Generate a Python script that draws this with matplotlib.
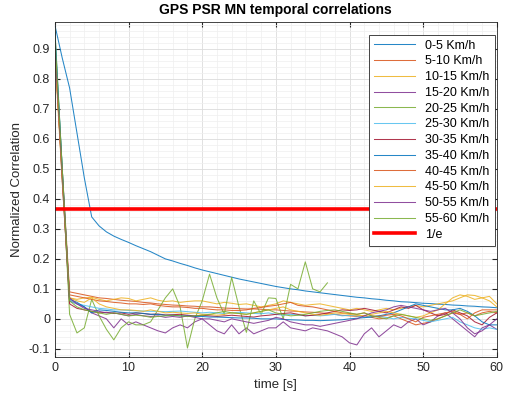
import numpy as np
import matplotlib
matplotlib.use("Agg")
import matplotlib.pyplot as plt
from matplotlib.ticker import MultipleLocator, FuncFormatter

plt.rcParams['font.family'] = ['Liberation Sans', 'DejaVu Sans']
plt.rcParams['axes.unicode_minus'] = False

# speed classes
labels = ['0-5 Km/h', '5-10 Km/h', '10-15 Km/h', '15-20 Km/h', '20-25 Km/h',
          '25-30 Km/h', '30-35 Km/h', '35-40 Km/h', '40-45 Km/h', '45-50 Km/h',
          '50-55 Km/h', '55-60 Km/h']

# MATLAB default colour order, cycled
colors = ['#0072BD', '#D95319', '#EDB120', '#7E2F8E', '#77AC30', '#4DBEEE',
          '#A2142F', '#0072BD', '#D95319', '#EDB120', '#7E2F8E', '#77AC30']

# lag [s]
t = np.arange(0, 61)

c_0_5 = [0.98, 0.87, 0.77, 0.62, 0.47, 0.34, 0.31, 0.29, 0.276, 0.265,
         0.255, 0.244, 0.234, 0.224, 0.212, 0.2, 0.193, 0.185, 0.178, 0.17,
         0.163, 0.157, 0.151, 0.145, 0.139, 0.133, 0.128, 0.123, 0.118, 0.113,
         0.108, 0.104, 0.1, 0.097, 0.093, 0.09, 0.087, 0.084, 0.081, 0.078,
         0.075, 0.072, 0.07, 0.067, 0.065, 0.062, 0.06, 0.057, 0.056, 0.054,
         0.052, 0.051, 0.049, 0.048, 0.046, 0.045, 0.043, 0.042, 0.04, 0.039,
         0.037]
c_5_10 = [0.93, 0.5, 0.09, 0.085, 0.08, 0.075, 0.07, 0.068, 0.065, 0.062,
          0.06, 0.058, 0.055, 0.053, 0.05, 0.048, 0.046, 0.045, 0.043, 0.042,
          0.04, 0.04, 0.038, 0.036, 0.035, 0.034, 0.033, 0.033, 0.032, 0.03,
          0.03, 0.028, 0.026, 0.025, 0.023, 0.022, 0.02, 0.018, 0.015, 0.012,
          0.01, 0.008, 0.01, 0.005, 0.0, 0.003, 0.01, 0.0, -0.01, -0.02,
          -0.015, -0.01, 0.0, 0.01, 0.02, 0.015, 0.02, 0.01, 0.02, 0.025,
          0.02]
c_10_15 = [0.9, 0.48, 0.07, 0.065, 0.07, 0.072, 0.065, 0.06, 0.065, 0.07,
           0.068, 0.06, 0.065, 0.07, 0.062, 0.058, 0.06, 0.055, 0.058, 0.06,
           0.06, 0.055, 0.05, 0.055, 0.052, 0.048, 0.05, 0.045, 0.04, 0.045,
           0.05, 0.06, 0.055, 0.05, 0.045, 0.048, 0.05, 0.045, 0.04, 0.035,
           0.03, 0.035, 0.03, 0.025, 0.03, 0.035, 0.03, 0.035, 0.04, 0.045,
           0.04, 0.045, 0.05, 0.055, 0.06, 0.07, 0.08, 0.078, 0.07, 0.075,
           0.05]
c_15_20 = [0.92, 0.46, 0.06, 0.05, 0.04, 0.02, 0.01, 0.0, -0.03, 0.0,
           -0.02, -0.01, -0.02, -0.03, -0.04, -0.047, -0.03, -0.02, -0.03, -0.01,
           0.0, -0.02, -0.04, -0.05, -0.02, -0.05, -0.03, -0.05, -0.04, -0.03,
           -0.03, -0.01, -0.03, -0.035, -0.04, -0.03, -0.035, -0.04, -0.05, -0.06,
           -0.08, -0.087, -0.05, -0.03, -0.06, -0.04, -0.02, -0.03, -0.01, 0.0,
           -0.02, -0.01, 0.01, 0.02, 0.0, -0.02, -0.04, -0.06, -0.03, -0.02,
           -0.035]
# this one stops at 37 s
t_20_25 = np.arange(0, 38)
c_20_25 = [0.97, 0.5, 0.015, -0.047, -0.03, 0.065, 0.01, -0.035, -0.07, -0.03,
           -0.01, -0.02, -0.02, -0.01, 0.03, 0.07, 0.1, 0.04, -0.097, 0.0,
           0.06, 0.149, 0.07, 0.015, 0.138, 0.04, -0.045, 0.06, 0.015, 0.07,
           0.068, 0.0, 0.115, 0.1, 0.19, 0.1, 0.09, 0.12]
c_25_30 = [0.95, 0.5, 0.06, 0.05, 0.045, 0.04, 0.035, 0.033, 0.03, 0.03,
           0.028, 0.027, 0.026, 0.025, 0.025, 0.024, 0.025, 0.026, 0.024, 0.022,
           0.02, 0.022, 0.02, 0.018, 0.02, 0.022, 0.02, 0.018, 0.017, 0.02,
           0.015, 0.012, 0.015, 0.013, 0.01, 0.012, 0.01, 0.012, 0.015, 0.01,
           0.012, 0.01, 0.005, 0.008, 0.01, 0.005, 0.0, 0.005, 0.002, 0.0,
           -0.005, -0.01, -0.005, 0.0, 0.005, -0.01, -0.02, -0.03, -0.035, -0.03,
           -0.035]
c_30_35 = [0.9, 0.47, 0.05, 0.035, 0.03, 0.025, 0.02, 0.022, 0.018, 0.02,
           0.015, 0.02, 0.018, 0.015, 0.016, 0.013, 0.014, 0.015, 0.012, 0.01,
           0.012, 0.01, 0.008, 0.01, 0.012, 0.01, 0.008, 0.006, 0.01, 0.012,
           0.015, 0.018, 0.02, 0.015, 0.01, 0.012, 0.015, 0.02, 0.025, 0.03,
           0.028, 0.03, 0.035, 0.03, 0.025, 0.02, 0.03, 0.04, 0.035, 0.045,
           0.03, 0.02, 0.01, 0.015, 0.03, 0.02, 0.01, -0.01, -0.02, 0.005,
           0.02]
c_35_40 = [0.96, 0.5, 0.065, 0.055, 0.04, 0.02, 0.03, 0.028, 0.025, 0.022,
           0.02, 0.02, 0.018, 0.015, 0.015, 0.012, 0.012, 0.01, 0.01, 0.008,
           0.008, 0.006, 0.006, 0.005, 0.004, 0.003, 0.003, 0.002, 0.0, 0.0,
           0.0, -0.002, -0.003, -0.004, -0.005, -0.005, -0.006, -0.005, -0.004, -0.003,
           0.0, 0.002, 0.004, 0.006, 0.01, 0.015, 0.02, 0.03, 0.04, 0.05,
           0.045, 0.04, 0.035, 0.03, 0.03, 0.035, 0.025, 0.01, -0.01, -0.02,
           -0.02]
c_40_45 = [0.9, 0.48, 0.08, 0.075, 0.07, 0.065, 0.06, 0.058, 0.055, 0.053,
           0.05, 0.05, 0.048, 0.05, 0.045, 0.042, 0.04, 0.04, 0.038, 0.035,
           0.035, 0.032, 0.03, 0.03, 0.028, 0.028, 0.03, 0.035, 0.038, 0.042,
           0.045, 0.05, 0.055, 0.045, 0.042, 0.04, 0.035, 0.03, 0.025, 0.02,
           0.018, 0.015, 0.02, 0.01, 0.008, 0.012, 0.015, 0.01, 0.0, -0.01,
           0.005, 0.01, 0.015, 0.02, 0.025, 0.015, 0.0, 0.02, 0.03, 0.03,
           0.03]
c_45_50 = [0.88, 0.46, 0.07, 0.06, 0.055, 0.07, 0.05, 0.04, 0.035, 0.03,
           0.03, 0.028, 0.025, 0.03, 0.025, 0.02, 0.022, 0.02, 0.018, 0.02,
           0.015, 0.015, 0.012, 0.015, 0.02, 0.018, 0.015, 0.02, 0.025, 0.03,
           0.035, 0.04, 0.03, 0.025, 0.02, 0.015, 0.012, 0.015, 0.02, 0.018,
           0.015, 0.012, 0.01, 0.015, 0.02, 0.025, 0.02, 0.015, 0.01, 0.005,
           0.01, 0.02, 0.03, 0.05, 0.07, 0.08, 0.075, 0.065, 0.07, 0.06,
           0.04]
c_50_55 = [0.91, 0.48, 0.07, 0.05, 0.035, 0.03, 0.025, 0.02, 0.02, 0.015,
           0.01, 0.015, 0.01, 0.008, 0.01, 0.005, 0.008, 0.005, 0.01, 0.005,
           0.0, 0.0, -0.005, -0.01, 0.0, -0.005, -0.01, -0.015, -0.01, -0.005,
           0.005, 0.0, -0.01, -0.015, -0.02, -0.02, -0.025, -0.02, -0.015, -0.01,
           -0.005, 0.0, 0.01, 0.02, 0.025, 0.03, 0.04, 0.045, 0.04, 0.035,
           0.03, 0.025, 0.03, 0.035, 0.02, 0.0, -0.03, -0.05, -0.04, -0.02,
           0.0]
c_55_60 = [0.94, 0.5, 0.06, 0.04, 0.03, 0.025, 0.02, 0.015, 0.02, 0.015,
           0.01, 0.012, 0.01, 0.005, 0.008, 0.01, 0.012, 0.01, 0.008, 0.01,
           0.012, 0.015, 0.02, 0.025, 0.02, 0.018, 0.015, 0.02, 0.025, 0.03,
           0.02, 0.015, 0.01, 0.012, 0.015, 0.02, 0.025, 0.028, 0.03, 0.025,
           0.02, 0.015, 0.02, 0.01, 0.005, 0.0, 0.01, 0.015, 0.01, 0.005,
           0.0, -0.005, 0.0, 0.01, 0.02, 0.03, 0.02, 0.01, 0.015, 0.02,
           0.025]

series = [(t, c_0_5), (t, c_5_10), (t, c_10_15), (t, c_15_20), (t_20_25, c_20_25),
          (t, c_25_30), (t, c_30_35), (t, c_35_40), (t, c_40_45), (t, c_45_50),
          (t, c_50_55), (t, c_55_60)]

inv_e = np.exp(-1)

fig = plt.figure(figsize=(5.08, 4.07), dpi=100)
ax = fig.add_axes([0.108, 0.123, 0.87, 0.823])

for (x, y), lab, col in zip(series, labels, colors):
    ax.plot(x, y, color=col, lw=0.75, alpha=0.85, label=lab)
ax.plot([0, 60], [inv_e, inv_e], color='#FF0000', lw=2.6, label='1/e')

ax.set_xlim(0, 60)
ax.set_ylim(-0.127, 0.99)
ax.xaxis.set_major_locator(MultipleLocator(10))
ax.xaxis.set_minor_locator(MultipleLocator(2))
ax.yaxis.set_major_locator(MultipleLocator(0.1))
ax.yaxis.set_minor_locator(MultipleLocator(0.02))
ax.yaxis.set_major_formatter(FuncFormatter(lambda v, p: '%g' % round(v, 2)))
ax.grid(which='major', color='#dcdcdc', lw=0.6)
ax.grid(which='minor', color='#efefef', lw=0.5)
ax.set_axisbelow(True)
ax.tick_params(which='both', direction='in', top=True, right=True,
               labelsize=9, colors='#262626')
ax.tick_params(which='minor', length=0)
for sp in ax.spines.values():
    sp.set_color('#262626')
    sp.set_linewidth(0.6)

ax.set_title('GPS PSR MN temporal correlations', fontsize=10, fontweight='bold', pad=6)
ax.set_xlabel('time [s]', fontsize=9.5, color='#262626')
ax.set_ylabel('Normalized Correlation', fontsize=9.5, color='#262626')

leg = ax.legend(loc='upper right', bbox_to_anchor=(0.995, 0.962), borderaxespad=0,
                fontsize=9, handlelength=3.3, labelspacing=0.3, fancybox=False,
                framealpha=1, edgecolor='#262626', borderpad=0.4)
leg.get_frame().set_linewidth(0.6)

fig.savefig('out.png', dpi=100)
